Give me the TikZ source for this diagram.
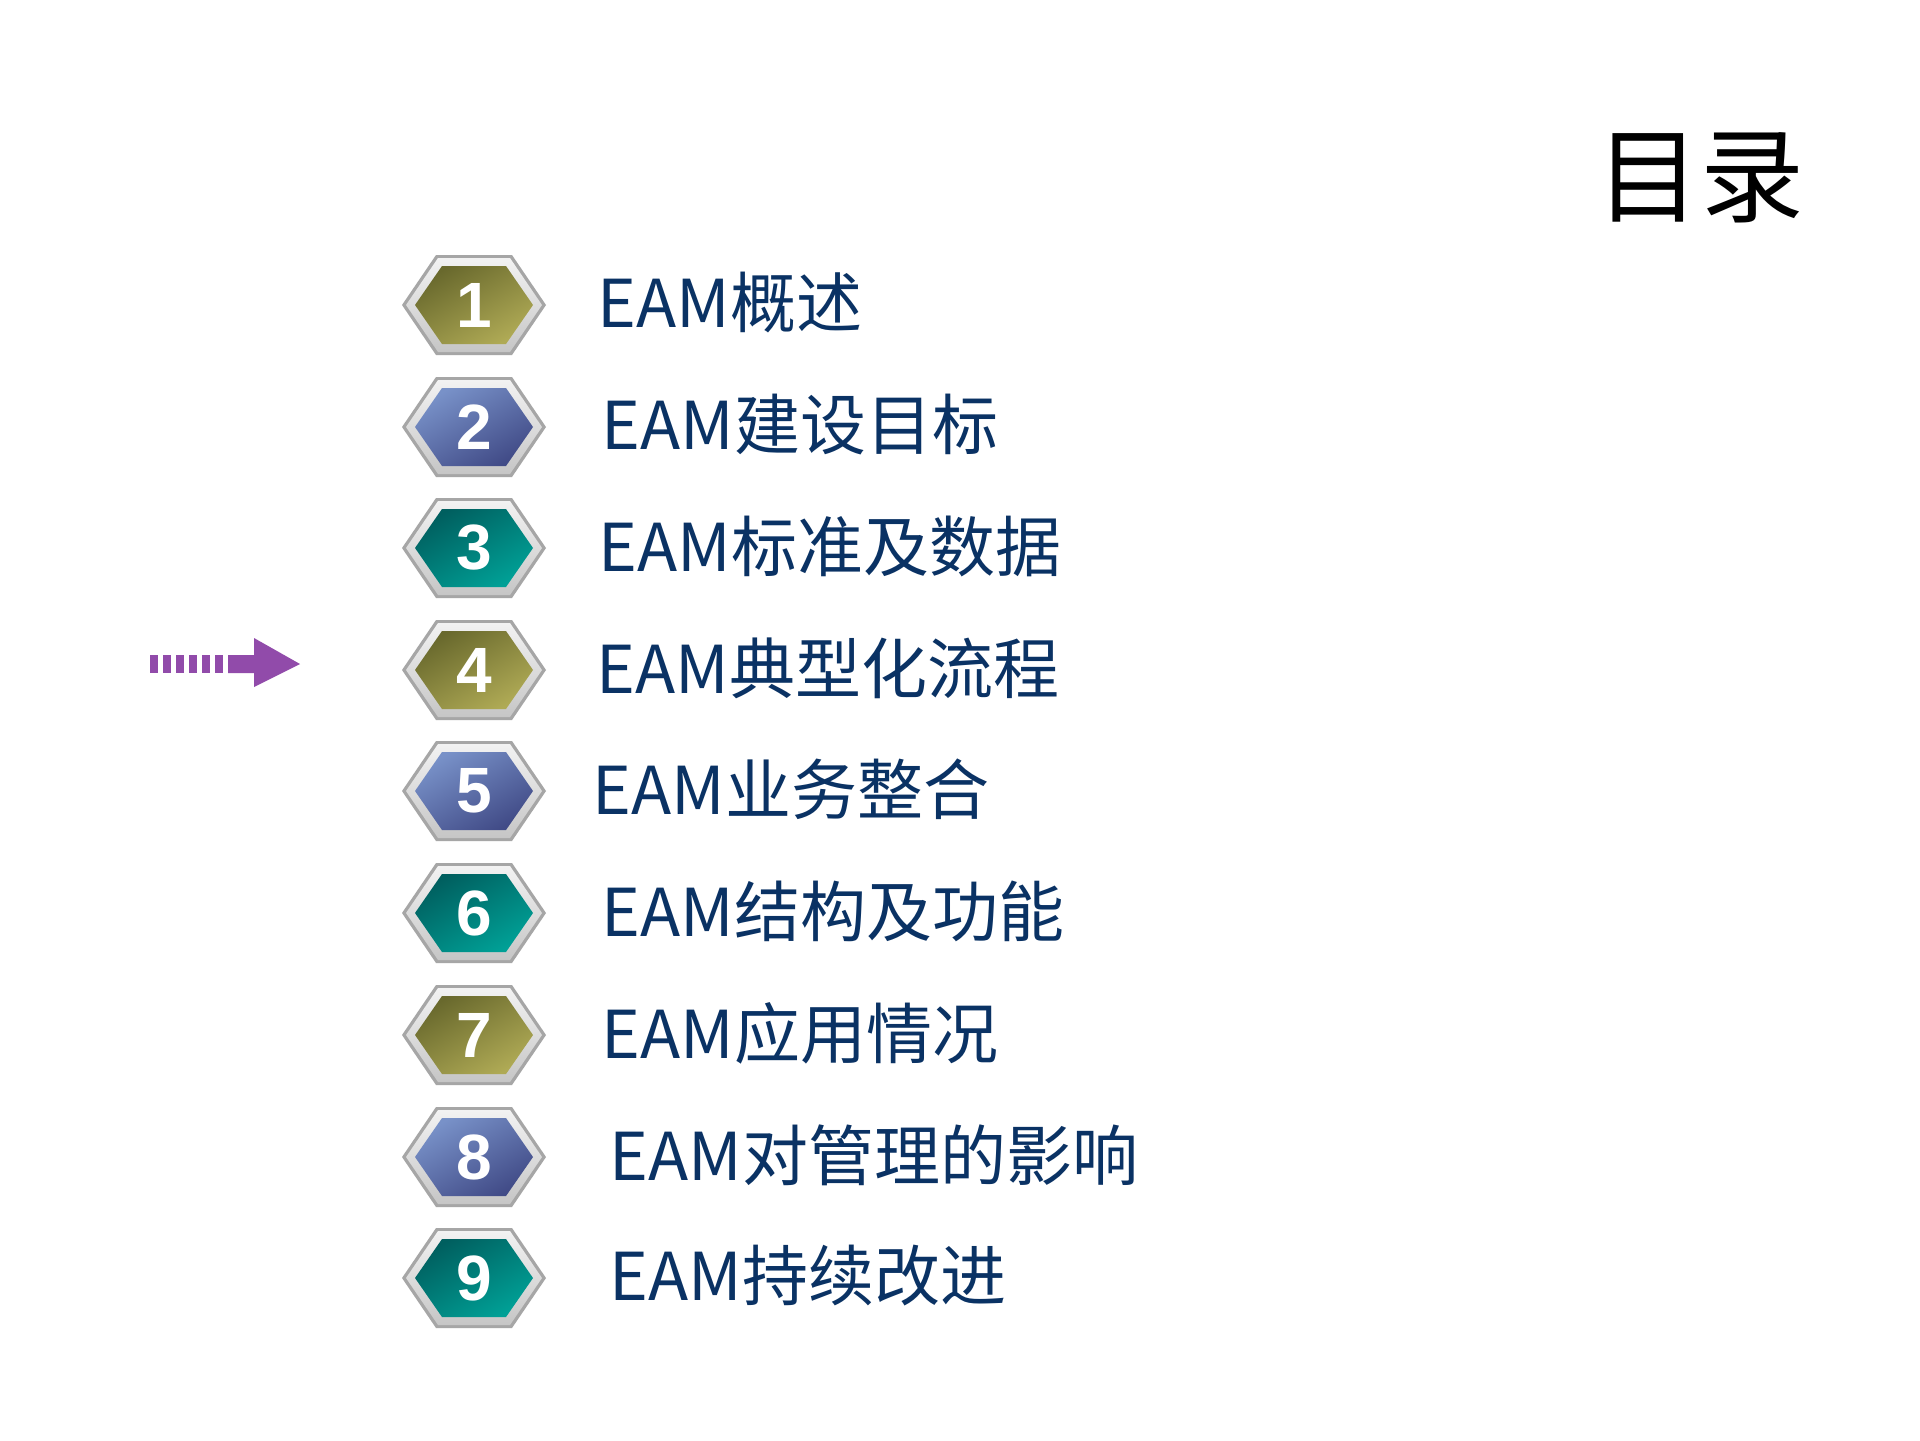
\documentclass[tikz,border=0pt]{standalone}
\usepackage{fontspec}
\newfontfamily\cjk{Noto Sans CJK SC}
\setmainfont{Liberation Sans}
\definecolor{navy}{RGB}{10,50,100}
\definecolor{oliveA}{RGB}{105,105,45}\definecolor{oliveB}{RGB}{175,170,85}
\definecolor{blueA}{RGB}{120,145,200}\definecolor{blueB}{RGB}{65,75,135}
\definecolor{tealA}{RGB}{0,95,95}\definecolor{tealB}{RGB}{0,160,150}
\definecolor{arrowc}{RGB}{145,75,170}
\begin{document}
\begin{tikzpicture}[x=0.5pt,y=-0.5pt,
  item/.style={anchor=west,text=navy,font=\fontsize{33}{40}\selectfont\cjk,inner sep=0pt},
  num/.style={text=white,font=\fontsize{32}{34}\selectfont\bfseries,inner sep=0pt}]
\useasboundingbox (0,0) rectangle (1920,1440);
\fill[white] (0,0) rectangle (1920,1440);
\node[font=\fontsize{52}{56}\selectfont\cjk,inner sep=0pt] (title) at (1700,178) {目录};
\newcommand\hexa[5]{%
  \begin{scope}[shift={(#1)}]
  \fill[gray!70] (-72,0)--(-38,-50)--(38,-50)--(72,0)--(38,50)--(-38,50)--cycle;
  \shade[top color=gray!10,bottom color=gray!45] (-68,0)--(-36,-47)--(36,-47)--(68,0)--(36,47)--(-36,47)--cycle;
  \shade[top color=#3,bottom color=#4,shading angle=30] (-59,0)--(-32,-39)--(32,-39)--(59,0)--(32,39)--(-32,39)--cycle;
  \node[num] (n#2) at (0,0) {#2};
  \end{scope}}
\newcommand\entry[4]{%
  \hexa{474,#1}{#2}{#3}{#4}{}}
\entry{305}{1}{oliveA}{oliveB}
\entry{427}{2}{blueA}{blueB}
\entry{548}{3}{tealA}{tealB}
\entry{670}{4}{oliveA}{oliveB}
\entry{791}{5}{blueA}{blueB}
\entry{913}{6}{tealA}{tealB}
\entry{1035}{7}{oliveA}{oliveB}
\entry{1157}{8}{blueA}{blueB}
\entry{1278}{9}{tealA}{tealB}
\node[item] (t1) at (597,303) {EAM概述};
\node[item] (t2) at (601,425) {EAM建设目标};
\node[item] (t3) at (598,546) {EAM标准及数据};
\node[item] (t4) at (596,668) {EAM典型化流程};
\node[item] (t5) at (592,789) {EAM业务整合};
\node[item] (t6) at (601,911) {EAM结构及功能};
\node[item] (t7) at (601,1033) {EAM应用情况};
\node[item] (t8) at (609,1155) {EAM对管理的影响};
\node[item] (t9) at (609,1276) {EAM持续改进};
% arrow
\foreach \a in {150,163,176,189,202,215}{\fill[arrowc] (\a,655) rectangle ++(8,18);}
\fill[arrowc] (228,655)--(254,655)--(254,638)--(300,664)--(254,687)--(254,673)--(228,673)--cycle;
\end{tikzpicture}
\end{document}
